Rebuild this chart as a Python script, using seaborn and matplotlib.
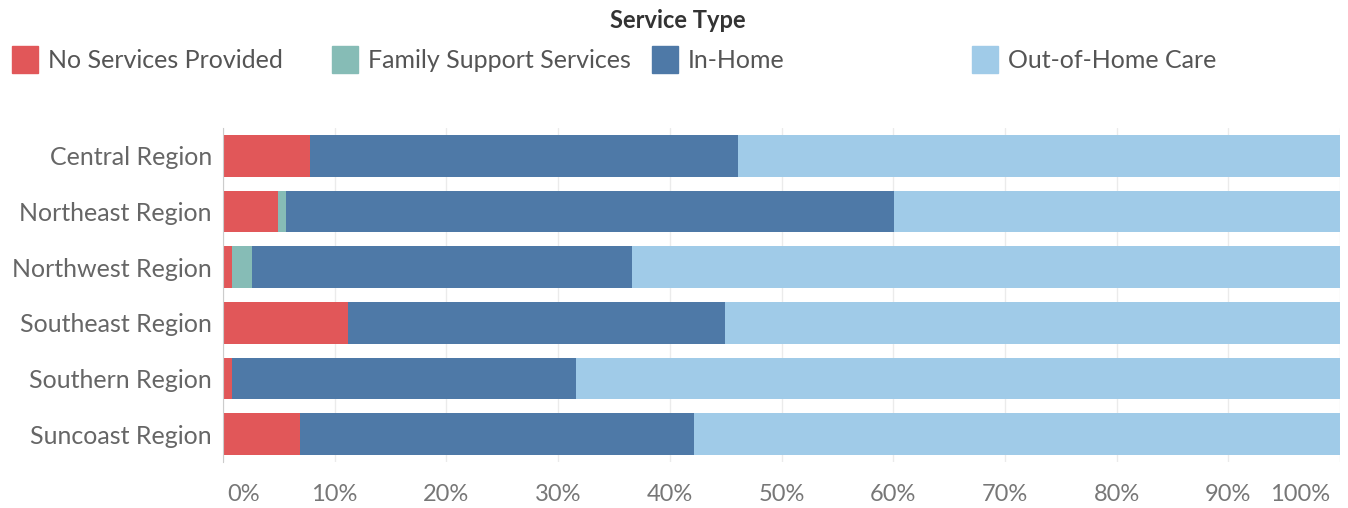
import pandas as pd
import matplotlib.pyplot as plt
import matplotlib.patches as mpatches
import matplotlib.transforms as mtransforms
import seaborn as sns

regions = ['Central Region', 'Northeast Region', 'Northwest Region',
           'Southeast Region', 'Southern Region', 'Suncoast Region']
service_types = ['No Services Provided', 'Family Support Services', 'In-Home', 'Out-of-Home Care']
colors = ['#E15759', '#86BCB6', '#4E79A7', '#A0CBE8']

# percent share of each service type per region
no_services = [7.8, 4.9, 0.8, 11.2, 0.8, 6.9]
family_support = [0.0, 0.7, 1.8, 0.0, 0.0, 0.0]
in_home = [38.3, 54.5, 34.0, 33.7, 30.8, 35.3]
out_of_home = [53.9, 39.9, 63.4, 55.1, 68.4, 57.8]

df = pd.DataFrame({'Region': regions,
                   service_types[0]: no_services,
                   service_types[1]: family_support,
                   service_types[2]: in_home,
                   service_types[3]: out_of_home})

# cumulative sums for stacking
cum = df[service_types].cumsum(axis=1)
cum['Region'] = df['Region']

sns.set_style('white')
plt.rcParams['font.family'] = ['Lato', 'DejaVu Sans']

fig = plt.figure(figsize=(13.48, 5.08), dpi=100)
ax = fig.add_axes([223 / 1348, 1 - 462 / 508, (1340 - 223) / 1348, (462 - 128) / 508])

# draw from the longest (right end) to the shortest so segments show
for st, c in reversed(list(zip(service_types, colors))):
    sns.barplot(data=cum, x=st, y='Region', color=c, width=0.75,
                linewidth=0, saturation=1, ax=ax, order=regions)

ax.set_xlim(0, 100)
ax.set_ylim(5.5, -0.5)
ax.set_xticks(range(0, 101, 10))
ax.set_xticklabels([f'{v}%' for v in range(0, 101, 10)])
ax.tick_params(axis='x', length=0, pad=16, labelsize=17, labelcolor='#777777')
ax.tick_params(axis='y', length=0, pad=8, labelsize=18, labelcolor='#666666')
xt = ax.get_xticklabels()
xt[0].set_ha('left')
xt[-1].set_ha('right')
xt[0].set_transform(xt[0].get_transform() + mtransforms.ScaledTranslation(4 / 100, 0, fig.dpi_scale_trans))
xt[-1].set_transform(xt[-1].get_transform() + mtransforms.ScaledTranslation(-10 / 100, 0, fig.dpi_scale_trans))
ax.set_xlabel('')
ax.set_ylabel('')
ax.grid(axis='x', color='#ebebeb', linewidth=1)
ax.set_axisbelow(True)
for s in ['top', 'right', 'bottom']:
    ax.spines[s].set_visible(False)
ax.spines['left'].set_color('#cccccc')

# legend, Tableau style with fixed column widths
fig.text(678 / 1348, 1 - 20 / 508, 'Service Type', ha='center', va='center',
         fontsize=17, fontweight='bold', color='#333333')
for i, (st, c) in enumerate(zip(service_types, colors)):
    x0 = 12 + 320 * i
    fig.patches.append(mpatches.Rectangle((x0 / 1348, 1 - 73 / 508), 26 / 1348, 27 / 508,
                                          transform=fig.transFigure, color=c))
    fig.text((x0 + 36) / 1348, 1 - 60 / 508, st, ha='left', va='center',
             fontsize=18, color='#555555')

fig.savefig('out.png', dpi=100)
